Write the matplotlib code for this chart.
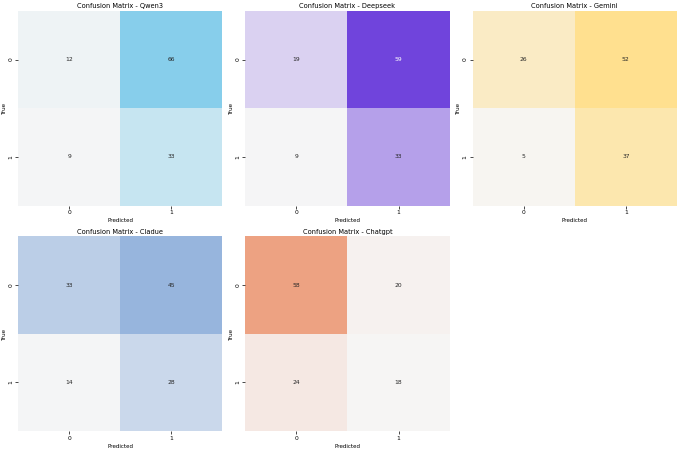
import matplotlib
matplotlib.use("Agg")
import matplotlib.pyplot as plt
from matplotlib.colors import LinearSegmentedColormap, to_rgb
import numpy as np
import seaborn as sns

models = ["Qwen3", "Deepseek", "Gemini", "Cladue", "Chatgpt"]
colors = ["#87CEEB", "#7044DC", "#FFE08F", "#97B5DD", "#EDA282"]
labels = [0, 1]

# confusion matrices: rows = true, cols = predicted
cm_qwen = [[12, 66], [9, 33]]
cm_deepseek = [[19, 59], [9, 33]]
cm_gemini = [[26, 52], [5, 37]]
cm_claude = [[33, 45], [14, 28]]
cm_chatgpt = [[58, 20], [24, 18]]
matrices = [cm_qwen, cm_deepseek, cm_gemini, cm_claude, cm_chatgpt]


def make_cmap(c):
    # seaborn light palette, with the pale end pushed a bit closer to white
    start = np.array(sns.light_palette(c, n_colors=2)[0])
    start = start + 0.3 * (1 - start)
    return LinearSegmentedColormap.from_list("cm", [tuple(start), to_rgb(c)])


fig, axes = plt.subplots(2, 3, figsize=(6.79, 4.5), dpi=100)
axes = axes.flatten()

for i in range(len(models)):
    ax = axes[i]
    sns.heatmap(np.array(matrices[i]), annot=True, fmt="d", cmap=make_cmap(colors[i]),
                cbar=False, xticklabels=labels, yticklabels=labels, ax=ax,
                annot_kws={"fontsize": 4.3})
    ax.set_title("Confusion Matrix - " + models[i], fontsize=4.8, pad=2)
    ax.set_xlabel("Predicted", fontsize=4.1, labelpad=2)
    ax.set_ylabel("True", fontsize=4.1, labelpad=1)
    ax.tick_params(labelsize=4.3, length=2, width=0.5, pad=1.5)

axes[5].axis("off")

plt.subplots_adjust(left=0.0265, right=0.997, top=0.9756, bottom=0.0422,
                    wspace=0.112, hspace=0.159)
plt.savefig("out.png", dpi=100)
